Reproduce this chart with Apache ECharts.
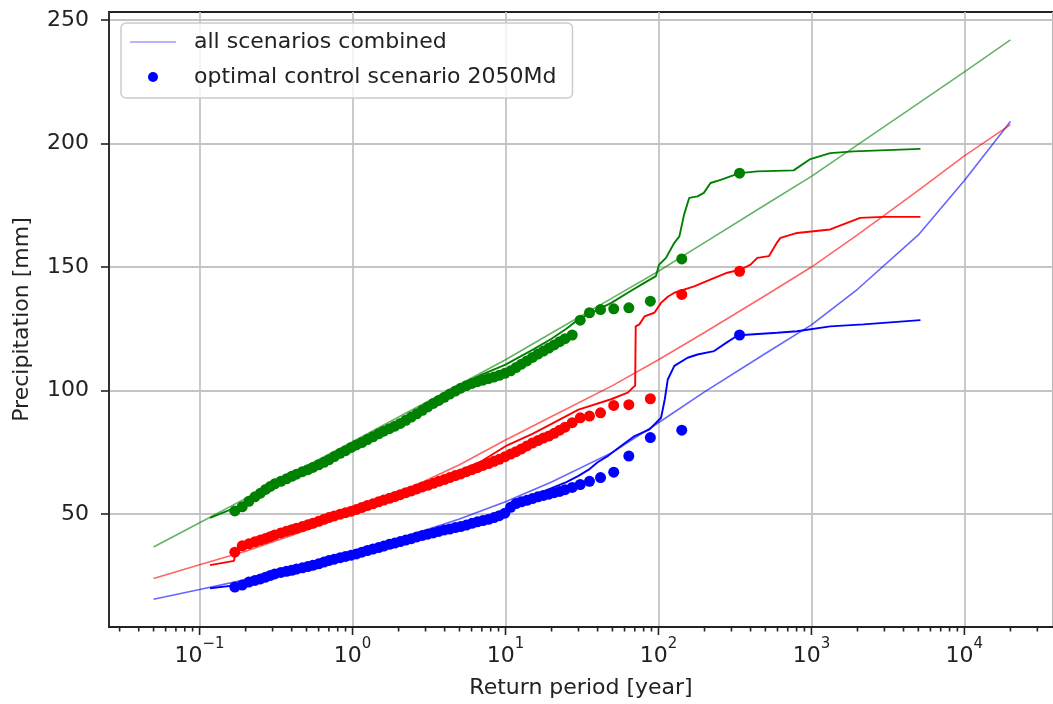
<!DOCTYPE html>
<html>
<head>
<meta charset="utf-8">
<script src="https://cdn.jsdelivr.net/npm/echarts@6/dist/echarts.min.js"></script>
<style>
html,body{margin:0;padding:0;background:#fff;}
#chart{width:1053px;height:704px;}
</style>
</head>
<body>
<div id="chart"></div>
<script>
// ---------- data ----------
// Fitted distribution curves (thin, translucent)
const fitT = [0.05, 0.1, 0.2, 0.5, 1, 2, 5, 10, 20, 50, 100, 200, 500, 1000, 2000, 5000, 10000, 20000];
const fitBlue  = [15.6, 19.5, 23.5, 29.5, 34.5, 40, 48, 55, 63, 75, 87, 99.5, 115, 126.6, 141, 163, 185, 208.9];
const fitRed   = [24.0, 29.5, 35, 43.5, 51, 58.5, 70, 80, 89.5, 102, 112.5, 123.5, 138.5, 150, 163, 181, 195, 207.6];
const fitGreen = [36.7, 46.5, 56.4, 69.5, 79.3, 89.3, 102.5, 112.5, 123.3, 137.5, 148.3, 159.9, 175.2, 186.7, 199.4, 216.2, 229, 241.9];

// Empirical "all scenarios combined" lines: [return period, precipitation]
const combinedBlue = [[0.117,20],[0.17,21.2],[0.25,24.2],[0.35,26.8],[0.5,29],[0.7,31.3],[1,33.8],[1.5,36.8],[2,39],[3,42.2],[5,45.8],[7,48.5],[9,50.5],[10,52],[12,55],[15,57.5],[20,60.5],[25,63],[30,65.5],[35,68],[40,71],[46.8,73.6],[56.9,77.6],[69.8,81.6],[87.4,84.3],[104,89],[110,96.5],[115,104.5],[127,110],[155,113.3],[180,114.6],[231,116],[280,119.5],[312,121.4],[339,122.4],[398,122.7],[597,123.4],[805,124],[1327,126],[2188,126.8],[5160,128.5]];
const combinedRed = [[0.117,29.4],[0.168,31.1],[0.172,35.5],[0.2,37.8],[0.25,40],[0.35,43.3],[0.5,46.5],[0.7,49.5],[1,52.3],[1.5,56],[2,58.5],[3,62.5],[5,67.5],[7,71.5],[10,77.5],[15,82.5],[20,86.5],[30,92.3],[49,96.5],[63,99.2],[68,101.2],[70.4,102],[71,126],[75,126.8],[81,130],[94,131.5],[104,135.5],[115,138],[127,139.6],[171,142.2],[220,145],[282,147.7],[345,149],[400,151],[443,153.7],[527,154.4],[597,160],[628,161.8],[806,163.8],[1327,165.2],[2080,169.9],[2953,170.3],[5160,170.3]];
const combinedGreen = [[0.117,48.5],[0.17,52.5],[0.21,56],[0.25,59.5],[0.3,62.5],[0.4,66.3],[0.5,68.8],[0.7,73],[1,78.5],[1.5,83.5],[2,87.5],[3,94],[5,102],[7,106.5],[10,110.5],[15,116.5],[20,121],[25,125],[29.9,128.8],[49.2,135.5],[63,139.6],[80.8,143.6],[96.2,146.3],[101,151],[112,153.7],[127,159.8],[137,162.4],[147,171.2],[159,178],[180,178.6],[198,180],[219,184],[255,185.3],[339,188],[443,188.7],[765,189.1],[984,193.7],[1327,196.1],[1884,196.8],[5160,197.8]];

// Optimal control scenario 2050Md: plotting positions shared by the three colours
const dotT = [0.17,0.19,0.21,0.23,0.25,0.27,0.29,0.31,0.34,0.37,0.4,0.43,0.47,0.51,0.55,0.6,0.65,0.7,0.76,0.83,0.9,0.98,1.06,1.15,1.25,1.36,1.48,1.6,1.74,1.89,2.05,2.23,2.42,2.63,2.86,3.1,3.37,3.66,3.98,4.32,4.7,5.1,5.55,6.03,6.55,7.12,7.74,8.4,9.1,9.9,10.8,11.7,12.7,13.8,15,16.3,17.7,19.2,20.8,22.6,24.5,27.3,30.8,35.4,41.8,51,64,88.5,142,339];
const dotBlue = [20.5,21.3,22.5,23.2,23.8,24.5,25.2,25.8,26.4,26.9,27.3,27.8,28.3,28.8,29.3,29.9,30.6,31.2,31.8,32.4,32.9,33.4,33.9,34.6,35.3,35.9,36.5,37.1,37.8,38.3,38.9,39.5,40.1,40.8,41.4,41.9,42.4,43.0,43.6,44.0,44.6,45.0,45.6,46.3,46.9,47.4,47.9,48.6,49.4,50.4,52.8,54.3,55.0,55.6,56.3,57.0,57.6,58.1,58.7,59.2,59.9,60.8,62.0,63.3,64.8,67.0,73.5,81.0,84.0,122.5];
const dotRed = [34.6,37.2,38.0,38.8,39.5,40.2,40.9,41.6,42.4,43.1,43.7,44.3,45.0,45.7,46.3,47.1,47.9,48.6,49.3,50.0,50.6,51.2,51.9,52.7,53.5,54.2,55.0,55.7,56.4,57.1,57.9,58.7,59.4,60.2,61.0,61.7,62.5,63.3,64.0,64.8,65.6,66.3,67.2,68.0,68.8,69.7,70.5,71.4,72.2,73.2,74.3,75.3,76.4,77.6,78.8,79.8,80.8,81.6,82.7,84.0,85.2,87.0,89.0,89.7,91.0,94.0,94.3,96.7,138.9,148.3];
const dotGreen = [51.3,53.0,55.2,57.0,58.5,60.0,61.2,62.3,63.3,64.3,65.3,66.2,67.2,68.0,68.9,70.0,71.0,72.0,73.3,74.6,75.7,77.0,78.0,79.0,80.2,81.3,82.5,83.6,84.6,85.6,86.7,88.0,89.3,90.6,92.0,93.4,94.8,96.0,97.3,98.6,99.8,101.0,102.0,102.9,103.6,104.2,104.9,105.5,106.2,107.0,108.0,109.3,110.7,112.0,113.4,114.8,116.0,117.2,118.5,119.8,121.0,122.5,128.5,131.5,132.8,133.1,133.5,136.2,153.3,188.0];

// Axis ticks
const xMajorExponents = [-1, 0, 1, 2, 3, 4];
const xMinorMultipliers = [2, 3, 4, 5, 6, 7, 8, 9];
const xMinorDecades = [-2, -1, 0, 1, 2, 3, 4];
const yTicks = [50, 100, 150, 200, 250];
const xRange = [0.02557, 37960];
const yRange = [4.34, 253.2];

// ---------- build ----------
const FONT = 'DejaVu Sans';
const TXT = '#222';
const C = { blue: '#0000ff', red: '#ff0000', green: '#008000' };

function pairs(xs, ys) { return xs.map((x, i) => [x, ys[i]]); }

const tickData = [];
xMajorExponents.forEach(e => tickData.push([Math.pow(10, e), 1]));
xMinorDecades.forEach(d => xMinorMultipliers.forEach(m => {
  const v = m * Math.pow(10, d);
  if (v > xRange[0] && v < xRange[1]) tickData.push([v, 0]);
}));

function fitSeries(name, color, ys) {
  return { name, type: 'line', data: pairs(fitT, ys), symbol: 'none', showSymbol: false,
    lineStyle: { color, width: 1.6, opacity: 0.6 }, itemStyle: { color, opacity: 0.6 }, z: 2, silent: true };
}
function combSeries(name, color, d) {
  return { name, type: 'line', data: d, symbol: 'none', lineStyle: { color, width: 1.9 }, itemStyle: { color }, z: 3, silent: true };
}
function dotSeries(name, color, ys) {
  return { name, type: 'scatter', data: pairs(dotT, ys), symbol: 'circle', symbolSize: 11,
    itemStyle: { color, opacity: 1 }, z: 4, silent: true };
}

const option = {
  animation: false,
  backgroundColor: '#fff',
  grid: { left: 109, top: 12, right: -4, bottom: 76, show: true, borderColor: TXT, borderWidth: 1.8, backgroundColor: 'transparent' },
  legend: {
    orient: 'vertical', left: 121, top: 23,
    data: [
      { name: 'all scenarios combined', icon: 'path://M0,0 L46,0 L46,1.7 L0,1.7 Z', itemStyle: { color: 'rgba(0,0,255,0.65)' } },
      { name: 'optimal control scenario 2050Md', icon: 'circle' }
    ],
    itemWidth: 46, itemHeight: 10, itemGap: 13,
    padding: [8, 16, 10, 9],
    backgroundColor: 'rgba(255,255,255,0.8)', borderColor: '#cccccc', borderWidth: 1.5, borderRadius: 5,
    textStyle: { fontFamily: FONT, fontSize: 22, color: TXT, lineHeight: 22, padding: [0, 0, 0, 13] },
    selectedMode: false
  },
  xAxis: {
    type: 'log', logBase: 10, min: xRange[0], max: xRange[1],
    name: 'Return period [year]', nameLocation: 'middle', nameGap: 50,
    nameTextStyle: { fontFamily: FONT, fontSize: 22, color: TXT },
    axisLine: { show: true, lineStyle: { color: TXT, width: 1.8 } },
    axisTick: { show: false },
    axisLabel: {
      showMinLabel: false, showMaxLabel: false, margin: 10,
      formatter: v => {
        const e = Math.round(Math.log10(v));
        return '{b|10}{s|' + String(e).replace('-', '\u2212') + '}';
      },
      rich: {
        b: { fontFamily: FONT, fontSize: 22, color: TXT, lineHeight: 30, verticalAlign: 'bottom' },
        s: { fontFamily: FONT, fontSize: 15, color: TXT, lineHeight: 15, verticalAlign: 'top' }
      }
    },
    splitLine: { show: true, lineStyle: { color: '#c4c4c4', width: 1.8 } },
    minorTick: { show: false }
  },
  yAxis: {
    type: 'value', min: yRange[0], max: yRange[1],
    name: 'Precipitation [mm]', nameLocation: 'middle', nameGap: 76,
    nameTextStyle: { fontFamily: FONT, fontSize: 22, color: TXT },
    axisLine: { show: true, lineStyle: { color: TXT, width: 1.8 } },
    axisTick: { show: true, length: 8, customValues: yTicks, lineStyle: { color: TXT, width: 1.6 } },
    axisLabel: { customValues: yTicks, margin: 20, fontFamily: FONT, fontSize: 22, color: TXT },
    splitLine: { show: true, lineStyle: { color: '#c4c4c4', width: 1.8 } }
  },
  series: [
    fitSeries('all scenarios combined', C.blue, fitBlue),
    combSeries('combined blue', C.blue, combinedBlue),
    dotSeries('optimal control scenario 2050Md', C.blue, dotBlue),
    fitSeries('fit red', C.red, fitRed),
    combSeries('combined red', C.red, combinedRed),
    dotSeries('dots red', C.red, dotRed),
    fitSeries('fit green', C.green, fitGreen),
    combSeries('combined green', C.green, combinedGreen),
    dotSeries('dots green', C.green, dotGreen),
    {
      name: 'xticks', type: 'custom', data: tickData, clip: false, silent: true, z: 10,
      renderItem: (params, api) => {
        const p = api.coord([api.value(0), yRange[0]]);
        const len = api.value(1) ? 8 : 4.5;
        return { type: 'line', shape: { x1: p[0], y1: p[1], x2: p[0], y2: p[1] + len },
          style: { stroke: TXT, lineWidth: 1.6 } };
      }
    }
  ]
};

const chart = echarts.init(document.getElementById('chart'), null, { renderer: 'canvas' });
chart.setOption(option);
</script>
</body>
</html>
